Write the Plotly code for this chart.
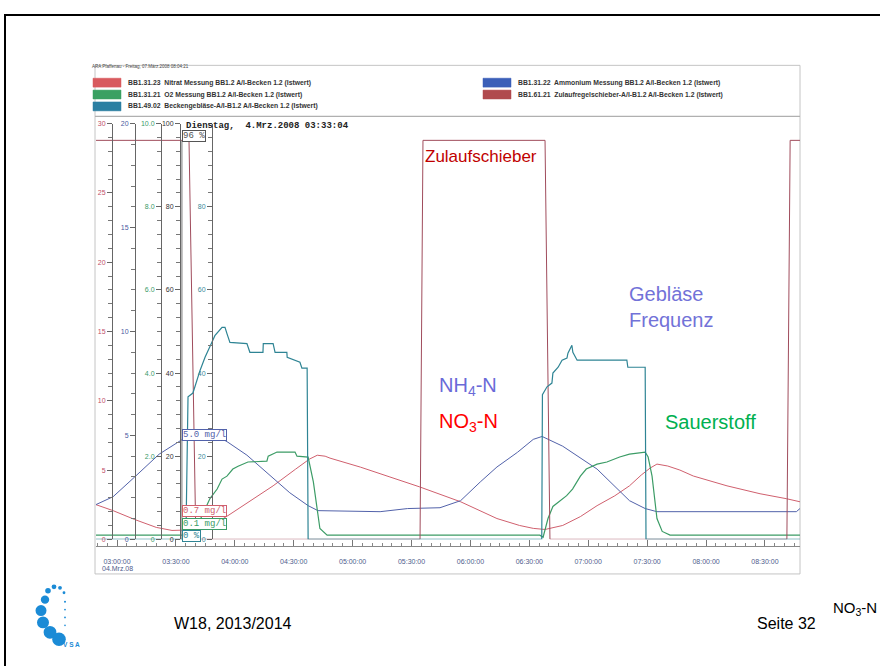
import plotly.graph_objects as go

W, H = 880, 666
DAY = "2008-03-04 "

# ---------------- data ----------------
no3_t = ["02:49:18", "02:58:00", "03:09:00", "03:20:00", "03:28:00", "03:45:00", "03:56:30", "04:08:00",
         "04:19:30", "04:31:00", "04:38:00", "04:42:00", "04:46:00", "04:48:30", "05:04:00", "05:19:00",
         "05:34:00", "05:55:00", "06:13:30", "06:25:00", "06:32:00", "06:38:00", "06:47:00", "06:56:00",
         "07:04:30", "07:13:30", "07:21:00", "07:27:00", "07:31:30", "07:35:00", "07:40:30", "07:46:40",
         "07:53:30", "08:10:40", "08:27:30", "08:41:00", "08:47:50"]
no3_v = [2.5, 2.07, 1.43, 0.86, 0.64, 0.71, 1.71, 2.79, 3.86, 5.07, 5.79, 6.07, 6.0, 5.86, 5.21, 4.5,
         3.79, 2.71, 1.5, 1.0, 0.79, 0.71, 1.0, 1.64, 2.43, 3.14, 3.86, 4.64, 5.14, 5.43, 5.29, 5.0,
         4.57, 3.86, 3.29, 2.93, 2.71]

nh4_t = ["02:49:18", "02:58:00", "03:09:00", "03:21:30", "03:35:40", "03:44:50", "03:49:00", "03:56:30",
         "04:06:10", "04:19:30", "04:28:00", "04:37:20", "04:42:20", "05:14:00", "05:25:00", "05:28:00",
         "05:44:30", "05:55:00", "06:05:00", "06:13:30", "06:24:00", "06:32:00", "06:36:30", "06:47:00",
         "07:04:30", "07:15:00", "07:21:00", "07:29:00", "07:35:00", "08:46:00", "08:47:50"]
nh4_v = [1.67, 2.05, 3.0, 4.1, 4.95, 5.24, 5.1, 4.67, 4.05, 2.95, 2.24, 1.62, 1.38, 1.33, 1.43, 1.48,
         1.52, 1.86, 2.76, 3.48, 4.19, 4.81, 4.95, 4.48, 3.38, 2.43, 1.86, 1.48, 1.33, 1.33, 1.48]

o2_t = ["02:49:18", "03:41:00", "03:42:40", "03:45:00", "03:47:20", "03:51:00", "03:53:30", "03:56:00",
        "03:59:00", "04:01:40", "04:06:40", "04:16:20", "04:17:00", "04:21:30", "04:30:40", "04:31:40",
        "04:37:20", "04:40:00", "04:43:20", "04:47:00", "06:35:20", "06:37:00", "06:39:30", "06:42:00",
        "06:45:40", "06:49:00", "06:52:00", "06:56:00", "06:59:00", "07:04:30", "07:09:30", "07:16:00",
        "07:21:00", "07:29:00", "07:30:30", "07:32:30", "07:35:00", "07:37:40", "07:41:40", "08:47:50"]
o2_v = [0.1, 0.1, 0.5, 0.74, 0.98, 1.21, 1.45, 1.52, 1.69, 1.76, 1.86, 1.88, 2.0, 2.1, 2.1, 2.0,
        1.98, 1.38, 0.26, 0.1, 0.1, 0.05, 0.5, 0.79, 0.93, 1.05, 1.21, 1.52, 1.69, 1.81, 1.86, 1.98,
        2.05, 2.1, 1.98, 1.52, 0.5, 0.19, 0.1, 0.1]

geb_t = ["02:49:18", "03:35:05", "03:36:10", "03:38:40", "03:42:20", "03:44:50", "03:48:20", "03:49:50",
         "03:53:30", "03:55:00", "03:56:00", "03:57:30", "04:06:10", "04:07:40", "04:14:20", "04:14:30",
         "04:19:30", "04:20:30", "04:26:30", "04:26:40", "04:33:10", "04:34:10", "04:36:50", "04:37:20",
         "06:36:20", "06:36:40", "06:39:00", "06:41:30", "06:42:00", "06:44:40", "06:46:40", "06:49:10",
         "06:49:40", "06:51:40", "06:52:10", "06:54:20", "07:19:40", "07:20:10", "07:29:00", "07:29:25",
         "08:47:50"]
geb_v = [0, 0, 34.3, 35.2, 40.7, 43.8, 47.4, 49, 51, 51, 49.5, 47.4, 47.1, 45, 45, 47.1,
         47.1, 45, 45, 43.8, 42.6, 41.2, 41.2, 0, 0, 34.8, 36.7, 37.6, 40, 41.4, 43.1, 43.6,
         44.8, 46.7, 45, 43.1, 43.1, 41.4, 41.4, 0, 0]

zul_t = ["02:49:18", "03:36:40", "03:40:10", "05:34:20", "05:35:50", "06:38:00", "06:40:30",
         "08:41:10", "08:42:50", "08:47:50"]
zul_v = [96, 96, 0, 0, 96, 96, 0, 0, 96, 96]

cursor_time = "03:33:04"
cursor_labels = ["96 %", "5.0 mg/l", "0.7 mg/l", "0.1 mg/l", "0 %"]

no3_ticks = [0, 5, 10, 15, 20, 25, 30]
no3_ticktext = ["0", "5", "10", "15", "20", "25", "30"]
nh4_ticks = [0, 5, 10, 15, 20]
nh4_ticktext = ["0", "5", "10", "15", "20"]
o2_ticks = [0, 2, 4, 6, 8, 10]
o2_ticktext = ["0", "2.0", "4.0", "6.0", "8.0", "10.0"]
pct_ticks = [0, 20, 40, 60, 80, 100]
pct_ticktext = ["0", "20", "40", "60", "80", "100"]
geb_ticks = [0, 20, 40, 60, 80]
geb_ticktext = ["0", "20", "40", "60", "80"]

legend_codes = ["BB1.31.23", "BB1.31.21", "BB1.49.02", "BB1.31.22", "BB1.61.21"]
legend_texts = ["Nitrat Messung BB1.2 A/I-Becken 1.2 (Istwert)",
                "O2 Messung BB1.2 A/I-Becken 1.2 (Istwert)",
                "Beckengebläse-A/I-B1.2 A/I-Becken 1.2 (Istwert)",
                "Ammonium Messung BB1.2 A/I-Becken 1.2 (Istwert)",
                "Zulaufregelschieber-A/I-B1.2 A/I-Becken 1.2 (Istwert)"]
legend_colors = ["#d85a5e", "#3aa062", "#2b7fa2", "#3b5fb8", "#b04a4e"]

# ---------------- helpers ----------------
def px(x):
    return x / W

def py(y):
    return 1 - y / H

def ts(lst):
    return [DAY + t for t in lst]

C_NO3 = "#d0606e"
C_NH4 = "#5262aa"
C_O2 = "#3c9c66"
C_GEB = "#2e8494"
C_ZUL = "#a04c5c"

fig = go.Figure()
fig.add_trace(go.Scatter(x=ts(zul_t), y=zul_v, mode="lines", yaxis="y4",
                         line=dict(color=C_ZUL, width=1), name="Zulauf"))
fig.add_trace(go.Scatter(x=ts(geb_t), y=geb_v, mode="lines", yaxis="y5",
                         line=dict(color=C_GEB, width=1.2), name="Gebläse"))
fig.add_trace(go.Scatter(x=ts(no3_t), y=no3_v, mode="lines", yaxis="y",
                         line=dict(color=C_NO3, width=1), name="NO3"))
fig.add_trace(go.Scatter(x=ts(nh4_t), y=nh4_v, mode="lines", yaxis="y2",
                         line=dict(color=C_NH4, width=1), name="NH4"))
fig.add_trace(go.Scatter(x=ts(o2_t), y=o2_v, mode="lines", yaxis="y3",
                         line=dict(color=C_O2, width=1.2), name="O2"))

dom = [py(541), py(121)]


def yax(pos, rng, tv, tt, color, mdt, overlay):
    d = dict(domain=dom, range=rng, anchor="free", position=pos, side="left",
             showline=True, linecolor="#666", linewidth=1, showgrid=False, zeroline=False,
             ticks="outside", ticklen=5, tickcolor="#666", tickmode="array",
             tickvals=tv, ticktext=tt,
             tickfont=dict(size=7, color=color, family="Liberation Sans"),
             minor=dict(ticks="outside", ticklen=4, tickmode="linear", tick0=0, dtick=mdt,
                        tickcolor="#777", showgrid=False),
             fixedrange=True)
    if overlay:
        d["overlaying"] = "y"
    return d


fig.update_layout(
    width=W, height=H, autosize=False,
    margin=dict(l=0, r=0, t=0, b=0),
    paper_bgcolor="white", plot_bgcolor="rgba(0,0,0,0)",
    showlegend=False,
    font=dict(family="Liberation Sans"),
    xaxis=dict(domain=[px(96), px(800)], type="date",
               range=[DAY + "02:49:18", DAY + "08:47:51"],
               anchor="free", position=py(548),
               showline=True, linecolor="#888", linewidth=1,
               ticks="inside", ticklen=6, tickcolor="#777",
               tick0=DAY + "03:00:00", dtick=1800000, tickformat="%H:%M:%S",
               tickfont=dict(size=7, color="#4e5c8c"), ticklabelstandoff=8,
               minor=dict(ticks="inside", ticklen=3, dtick=300000, tickcolor="#888"),
               showgrid=False, zeroline=False, fixedrange=True),
    yaxis=yax(px(112), [0, 30], no3_ticks, no3_ticktext, "#c0506a", 1, False),
    yaxis2=yax(px(135), [0, 20], nh4_ticks, nh4_ticktext, "#4a5aa0", 1, True),
    yaxis3=yax(px(161), [0, 10], o2_ticks, o2_ticktext, "#3a9a6a", 10 / 30, True),
    yaxis4=yax(px(180), [0, 100], pct_ticks, pct_ticktext, "#333333", 10 / 3, True),
    yaxis5=yax(px(212), [0, 100], geb_ticks, geb_ticktext, "#3a8a9a", 10 / 3, True),
)

shapes = []
# slide border
shapes.append(dict(type="rect", xref="paper", yref="paper", x0=px(5), x1=1.02, y0=-0.02, y1=py(11),
                   line=dict(color="black", width=2), layer="below"))
# scanned chart frame + header separator
shapes.append(dict(type="rect", xref="paper", yref="paper", x0=px(95), x1=px(800), y0=py(576), y1=py(62),
                   line=dict(color="#c4c4c4", width=1), layer="below"))
shapes.append(dict(type="line", xref="paper", yref="paper", x0=px(95), x1=px(800), y0=py(113.5), y1=py(113.5),
                   line=dict(color="#b0b0b0", width=1.2), layer="below"))
# cursor line
shapes.append(dict(type="line", xref="x", yref="paper", x0=DAY + cursor_time, x1=DAY + cursor_time,
                   y0=py(541), y1=py(138), line=dict(color="#777", width=1)))
# legend swatches
sw_pos = [(93, 75), (93, 87), (93, 99), (483, 75), (483, 87)]
for (sx, sy), col in zip(sw_pos, legend_colors):
    shapes.append(dict(type="rect", xref="paper", yref="paper", x0=px(sx), x1=px(sx + 28),
                       y0=py(sy + 9), y1=py(sy), line=dict(color=col, width=0.5), fillcolor=col))
# VSA logo dots
logo = [(45, 602, 4.2), (41, 613, 5.5), (43, 625, 6.0), (50, 635, 6.4), (59, 642, 6.8),
        (48, 593, 2.8), (54, 589, 2.4), (60, 590, 1.9), (64, 595, 1.4),
        (65, 604, 1.0), (65, 612, 0.9), (65, 620, 0.9), (65, 628, 0.8)]
for cx, cy, r in logo:
    shapes.append(dict(type="circle", xref="paper", yref="paper", x0=px(cx - r), x1=px(cx + r),
                       y0=py(cy + r), y1=py(cy - r), line=dict(width=0), fillcolor="#1b8bd6"))
fig.update_layout(shapes=shapes)

ann = []
# header
ann.append(dict(x=px(90), y=py(63), xref="paper", yref="paper", xanchor="left", yanchor="middle",
                text="ARA Pfaffenau - Freitag, 07.März.2008 08:04:21", showarrow=False,
                font=dict(size=4.5, color="#444")))
for (sx, sy), code, txt in zip(sw_pos, legend_codes, legend_texts):
    ann.append(dict(x=px(sx + 33), y=py(sy + 4.5), xref="paper", yref="paper", xanchor="left",
                    yanchor="middle", text="<b>" + code + "  " + txt + "</b>", showarrow=False,
                    font=dict(size=6.8, color="#333")))
ann.append(dict(x=px(184), y=py(123), xref="paper", yref="paper", xanchor="left", yanchor="middle",
                text="<b>Dienstag,  4.Mrz.2008 03:33:04</b>", showarrow=False,
                font=dict(size=9, color="#222", family="Liberation Mono")))
# cursor value boxes
box_y = [133, 436, 512, 526, 538]
box_c = ["#555555", C_NH4, C_NO3, C_O2, C_GEB]
for lab, by, bc in zip(cursor_labels, box_y, box_c):
    ann.append(dict(x=DAY + cursor_time, y=py(by), xref="x", yref="paper", xanchor="left",
                    yanchor="middle", text=lab, showarrow=False, bgcolor="white",
                    bordercolor=bc, borderwidth=1, borderpad=0,
                    font=dict(size=9, color=bc, family="Liberation Mono")))
ann.append(dict(x=DAY + "03:00:00", y=py(571), xref="x", yref="paper", xanchor="center", yanchor="middle",
                text="04.Mrz.08", showarrow=False, font=dict(size=7, color="#4e5c8c")))
# slide overlay labels
ann.append(dict(x=px(481.5), y=py(154), xref="paper", yref="paper", xanchor="center", yanchor="middle",
                text="Zulaufschieber", showarrow=False, font=dict(size=17, color="#c00000")))
ann.append(dict(x=px(627), y=py(306.5), xref="paper", yref="paper", xanchor="left", yanchor="middle",
                text="Gebläse<br>Frequenz", align="left", showarrow=False,
                font=dict(size=20, color="#7272d8")))
ann.append(dict(x=px(437), y=py(387), xref="paper", yref="paper", xanchor="left", yanchor="middle",
                text="NH<sub>4</sub>-N", showarrow=False, font=dict(size=20, color="#6a6ad8")))
ann.append(dict(x=px(437), y=py(423), xref="paper", yref="paper", xanchor="left", yanchor="middle",
                text="NO<sub>3</sub>-N", showarrow=False, font=dict(size=20, color="#ff0000")))
ann.append(dict(x=px(663), y=py(422), xref="paper", yref="paper", xanchor="left", yanchor="middle",
                text="Sauerstoff", showarrow=False, font=dict(size=20, color="#00b050")))
ann.append(dict(x=px(879), y=py(611), xref="paper", yref="paper", xanchor="right", yanchor="middle",
                text="NO<sub>3</sub>-N", showarrow=False, font=dict(size=15, color="black")))
ann.append(dict(x=px(172), y=py(626), xref="paper", yref="paper", xanchor="left", yanchor="middle",
                text="W18, 2013/2014", showarrow=False, font=dict(size=16, color="black")))
ann.append(dict(x=px(818), y=py(626), xref="paper", yref="paper", xanchor="right", yanchor="middle",
                text="Seite 32", showarrow=False, font=dict(size=16, color="black")))
ann.append(dict(x=px(61), y=py(647), xref="paper", yref="paper", xanchor="left", yanchor="middle",
                text="<b>V S A</b>", showarrow=False, font=dict(size=6.5, color="#1b8bd6")))
fig.update_layout(annotations=ann)

fig.write_html("out.html", config={"displayModeBar": False},
               post_script="document.body.style.margin='0';document.body.style.overflow='hidden';")
